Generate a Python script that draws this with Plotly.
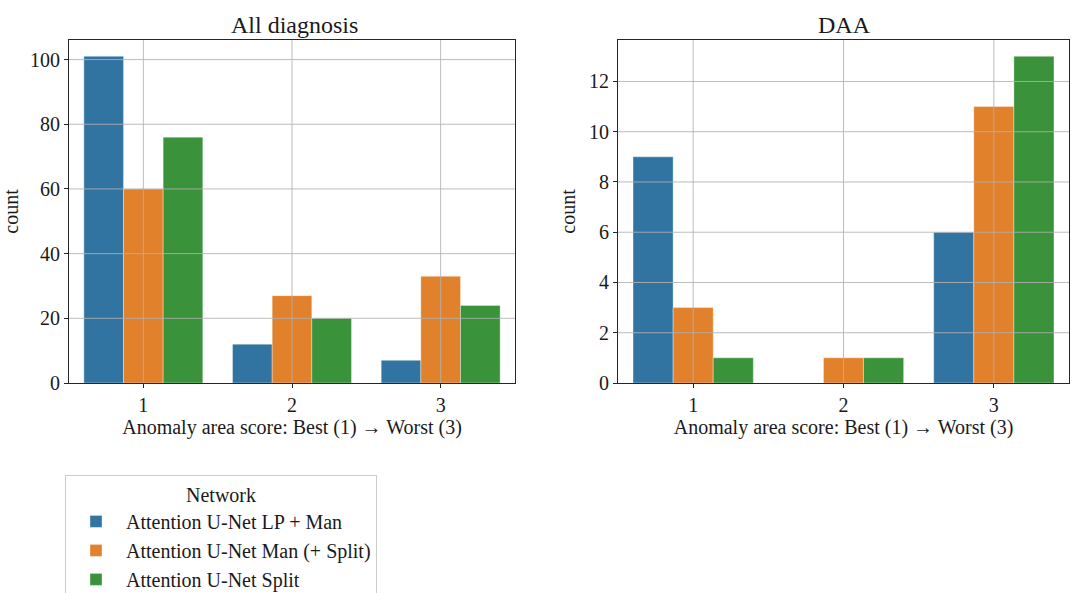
import plotly.graph_objects as go
from plotly.subplots import make_subplots

categories = ["1", "2", "3"]
networks = ["Attention U-Net LP + Man", "Attention U-Net Man (+ Split)", "Attention U-Net Split"]
all_diag = [[101, 12, 7], [60, 27, 33], [76, 20, 24]]
daa = [[9, 0, 6], [3, 1, 11], [1, 1, 13]]
colors = ["#3274a1", "#e1812c", "#3a923a"]
left_ticks = [0, 20, 40, 60, 80, 100]
right_ticks = [0, 2, 4, 6, 8, 10, 12]

FONT = "Liberation Serif"
FS = 20
TXT = "#1a1a1a"

fig = make_subplots(rows=1, cols=2, subplot_titles=["All diagnosis", "DAA"],
                    horizontal_spacing=0.1)

for i, name in enumerate(networks):
    fig.add_trace(go.Bar(x=[0, 1, 2], y=all_diag[i], name=name,
                         marker=dict(color=colors[i], line=dict(color="rgba(255,255,255,0.6)", width=0.6)),
                         legendgroup=name, showlegend=True), row=1, col=1)
    fig.add_trace(go.Bar(x=[0, 1, 2], y=daa[i], name=name,
                         marker=dict(color=colors[i], line=dict(color="rgba(255,255,255,0.6)", width=0.6)),
                         legendgroup=name, showlegend=False), row=1, col=2)

axis_common = dict(showline=True, linecolor="#262626", linewidth=1, mirror=True,
                   ticks="outside", ticklen=4, tickcolor="#262626",
                   showgrid=False, zeroline=False, automargin=False,
                   tickfont=dict(family=FONT, size=FS, color=TXT))

fig.update_xaxes(**axis_common, range=[-0.5, 2.5], tickvals=[0, 1, 2], ticktext=categories,
                 title=dict(text="Anomaly area score: Best (1) \u2192 Worst (3)",
                            font=dict(family=FONT, size=FS, color=TXT), standoff=2))
fig.update_yaxes(**axis_common, title=dict(text="count", font=dict(family=FONT, size=FS, color=TXT), standoff=8))
fig.update_yaxes(range=[0, max(max(s) for s in all_diag) * 1.05], tickvals=left_ticks, row=1, col=1)
fig.update_yaxes(range=[0, max(max(s) for s in daa) * 1.05], tickvals=right_ticks, row=1, col=2)

fig.update_layout(
    xaxis=dict(domain=[0, 0.446]),
    xaxis2=dict(domain=[0.549, 1.0]),
)

# gridlines drawn above bars (as in the reference)
grid = dict(color="rgba(176,176,176,0.85)", width=1)
for xr, yr, ticks in [("x", "y", left_ticks), ("x2", "y2", right_ticks)]:
    for t in ticks[1:]:
        fig.add_shape(type="line", xref=xr + " domain", yref=yr, x0=0, x1=1, y0=t, y1=t,
                      line=grid, layer="above")
    for c in [0, 1, 2]:
        fig.add_shape(type="line", xref=xr, yref=yr + " domain", x0=c, x1=c, y0=0, y1=1,
                      line=grid, layer="above")

for ann in fig.layout.annotations:
    ann.font = dict(family=FONT, size=24, color=TXT)
    ann.yshift = 0

fig.update_layout(
    width=1073, height=593,
    margin=dict(l=69, r=4, t=40, b=210, autoexpand=False),
    paper_bgcolor="white", plot_bgcolor="white",
    barmode="group", bargap=0.2, bargroupgap=0,
    font=dict(family=FONT, size=FS, color=TXT),
    legend=dict(
        title=dict(text="Network", side="top center", font=dict(family=FONT, size=FS)),
        font=dict(family=FONT, size=FS, color=TXT),
        x=-0.004, xanchor="left", y=-0.268, yanchor="top",
        bordercolor="#cccccc", borderwidth=1, bgcolor="white",
        itemwidth=50, tracegroupgap=0,
    ),
)

fig.write_html("out.html")
